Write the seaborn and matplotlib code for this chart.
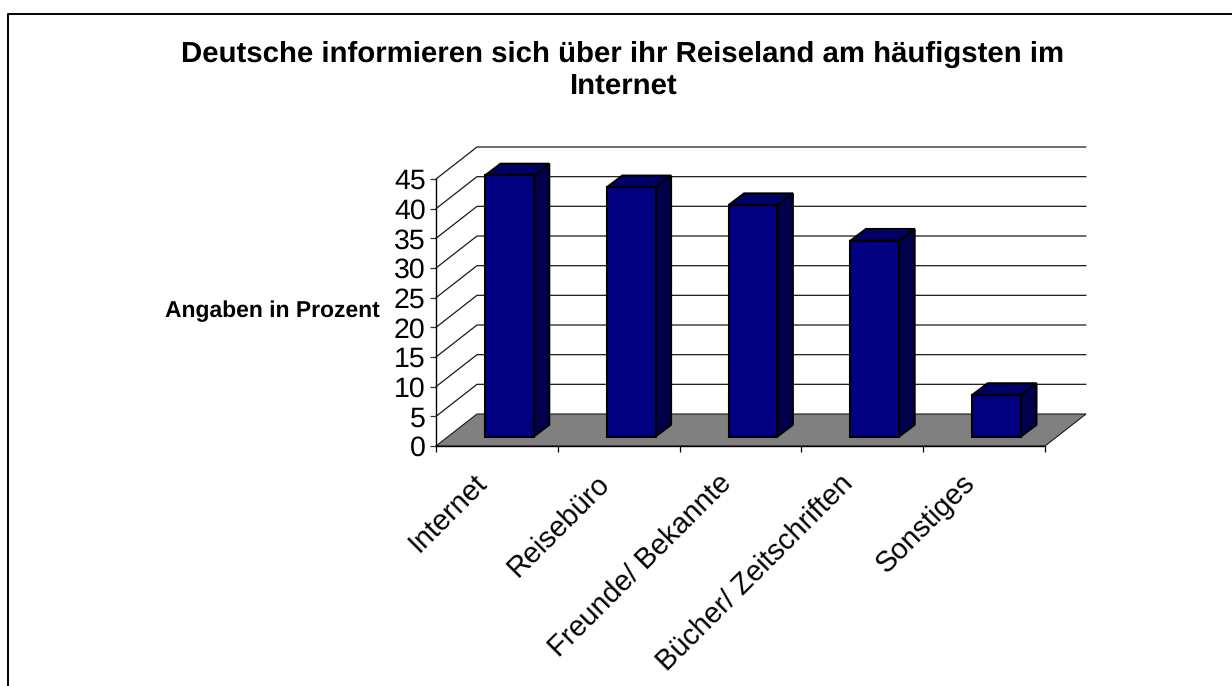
import matplotlib
matplotlib.use("Agg")
import matplotlib.pyplot as plt
import numpy as np
import pandas as pd
import seaborn as sns

# Data
categories = ["Internet", "Reisebüro", "Freunde/ Bekannte", "Bücher/ Zeitschriften", "Sonstiges"]
values = [44, 42, 39, 33, 7]
y_ticks = [0, 5, 10, 15, 20, 25, 30, 35, 40, 45]

title = "Deutsche informieren sich über ihr Reiseland am häufigsten im\nInternet"
y_label = "Angaben in Prozent"

df = pd.DataFrame({"quelle": categories, "prozent": values})

sns.set_theme(style="white")
plt.rcParams["font.family"] = ["Liberation Sans", "DejaVu Sans"]
plt.rcParams["text.hinting"] = "no_hinting"

W, H = 1232, 686
fig = plt.figure(figsize=(W / 100, H / 100), dpi=100, facecolor="white")
ax = fig.add_axes([436 / W, 1 - 446 / H, 609 / W, 267 / H])
ax.patch.set_visible(False)

# Front faces of the bars
sns.barplot(data=df, x="quelle", y="prozent", color="#000080", saturation=1, width=0.4,
            edgecolor="black", linewidth=1.5, zorder=5, ax=ax)
ax.set_xlim(-0.5, 4.5)
ax.set_ylim(0, 45)

# Pixel sizes of the fake 3D depth, turned into data units
px_x = 5 / 609
px_y = 45 / 267
wall_dx, wall_dy = 41 * px_x, 32 * px_y
shift_x, shift_y = 12.5 * px_x, 9.5 * px_y
bar_dx, bar_dy = 15.5 * px_x, 11.7 * px_y

# Walls: diagonal on the left side, then straight along the back
for t in y_ticks[1:]:
    ax.plot([-0.5, -0.5 + wall_dx, 4.5 + wall_dx], [t, t + wall_dy, t + wall_dy],
            color="#1a1a1a", lw=0.9, clip_on=False, zorder=1)

# Floor
ax.fill([-0.5, 4.5, 4.5 + wall_dx, -0.5 + wall_dx], [0, 0, wall_dy, wall_dy],
        facecolor="#808080", edgecolor="#1a1a1a", lw=0.8, clip_on=False, zorder=2)

# Side and top faces of the bars
for bar in ax.patches[:len(values)]:
    bar.set_x(bar.get_x() + shift_x)
    bar.set_y(shift_y)
    bar.set_clip_on(False)
    x0, x1 = bar.get_x(), bar.get_x() + bar.get_width()
    y0, y1 = bar.get_y(), bar.get_y() + bar.get_height()
    ax.fill([x1, x1 + bar_dx, x1 + bar_dx, x1], [y0, y0 + bar_dy, y1 + bar_dy, y1],
            facecolor="#00004d", edgecolor="black", lw=1.5, clip_on=False, zorder=4)
    ax.fill([x0, x0 + bar_dx, x1 + bar_dx, x1], [y1, y1 + bar_dy, y1 + bar_dy, y1],
            facecolor="#000066", edgecolor="black", lw=1.5, clip_on=False, zorder=4)

# Axes
for side in ["top", "right"]:
    ax.spines[side].set_visible(False)
for side in ["left", "bottom"]:
    ax.spines[side].set_color("black")
    ax.spines[side].set_linewidth(1.0)
    ax.spines[side].set_zorder(6)

ax.set_yticks(y_ticks)
ax.tick_params(axis="y", labelsize=20.5, length=4.5, width=0.9, color="#333333", pad=3, left=True,
               labelcolor="black")

# Ticks between the categories, labels under them (pulled left of the category centre)
ax.set_xticks(np.arange(-0.5, 5), labels=[""] * 6)
ax.set_xticks(np.arange(5) - 0.19, labels=categories, minor=True)
ax.tick_params(axis="x", which="major", length=4.5, width=0.9, color="black", bottom=True)
ax.tick_params(axis="x", which="minor", length=0, labelsize=20.8, pad=17, labelcolor="black")
for lab in ax.get_xticklabels(minor=True):
    lab.set_rotation(45)
    lab.set_ha("right")
    lab.set_va("top")
    lab.set_rotation_mode("anchor")

ax.set_xlabel("")
ax.set_ylabel(y_label, rotation=0, ha="right", va="center", fontsize=16.5, fontweight="bold",
              color="black")
ax.yaxis.set_label_coords((380 - 436) / 609, (446 - 311) / 267)

fig.text(623 / W, 1 - 71 / H, title, ha="center", va="center", fontsize=21.2, fontweight="bold",
         color="black", linespacing=1.25)

# Chart frame: only the top and left edges show
fig.add_artist(plt.Line2D([7.5 / W, 7.5 / W, 1], [0, 1 - 13.5 / H, 1 - 13.5 / H], color="black", lw=1.4))

fig.savefig("out.png", dpi=100)
